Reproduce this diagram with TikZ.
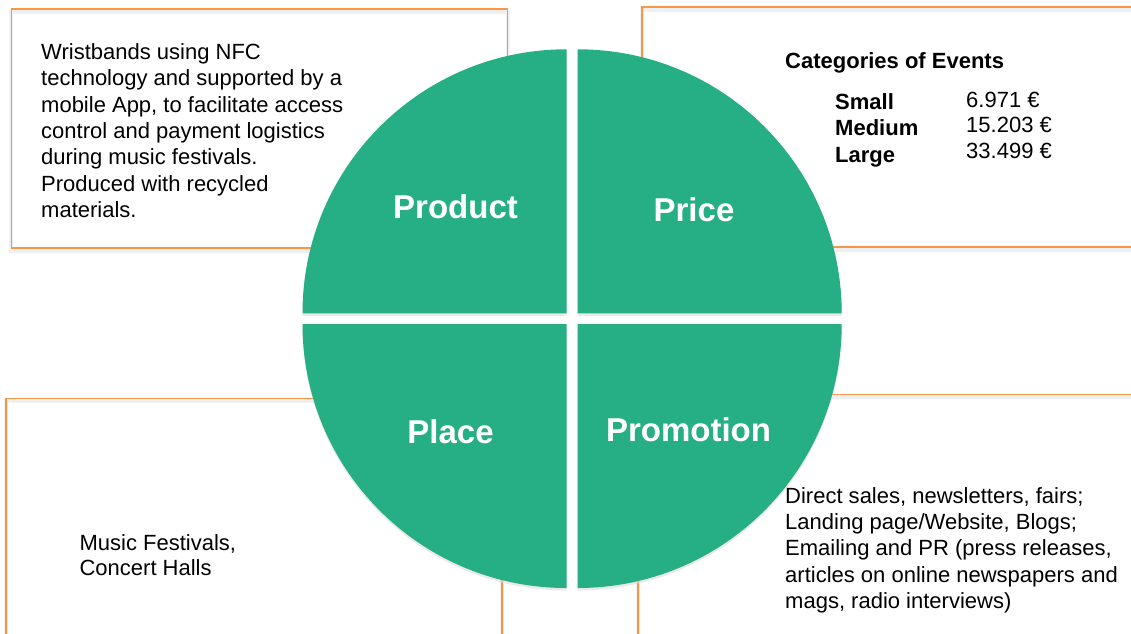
\documentclass[tikz,border=0pt]{standalone}
\usepackage{fontspec}
\setmainfont{Liberation Sans}
\usepackage{tikz}
\usetikzlibrary{positioning}

\definecolor{piegreen}{RGB}{38,174,132}
\definecolor{boxorange}{RGB}{247,150,70}

\begin{document}
\begin{tikzpicture}
	[x=1pt, y=1pt,
	 quarter/.style = {fill=piegreen},
	 quartershadow/.style = {fill=black!14, opacity=0.6},
	 card/.style = {draw=boxorange, line width=1.6pt},
	 cardshadow/.style = {draw=black!6, line width=4pt},
	 title/.style = {text=white, font=\bfseries\fontsize{33}{33}\selectfont, inner sep=0pt, anchor=base},
	 body/.style = {font=\fontsize{22}{26.3}\selectfont, align=left, inner sep=0pt, anchor=north west}]
	\useasboundingbox (0,0) rectangle (1131,633);
	\clip (0,0) rectangle (1131,633);

	% boxes behind the circle
	\draw[cardshadow] (11.4,382) rectangle (507.5,621);
	\draw[cardshadow] (642,383) rectangle (1145,623);
	\draw[cardshadow] (5.7,-10) rectangle (502,231.7);
	\draw[cardshadow] (638,-10) rectangle (1145,235.7);
	\draw[card] (11.4,385) rectangle (507.5,624);
	\draw[card] (642,386.3) rectangle (1145,626);
	\draw[card] (5.7,-7) rectangle (502,234.7);
	\draw[card] (638,-7) rectangle (1145,238.7);

	% four quarters of the circle
	\foreach \cx/\cy/\a in {566.5/319.7/90, 577.7/319.7/0, 566.5/309/180, 577.7/309/270}{
		\fill[quartershadow] (\cx,\cy-2.5) -- ++(\a:264) arc[start angle=\a, end angle=\a+90, radius=264] -- cycle;
	}
	\foreach \cx/\cy/\a in {566.5/319.7/90, 577.7/319.7/0, 566.5/309/180, 577.7/309/270}{
		\fill[quarter] (\cx,\cy) -- ++(\a:264) arc[start angle=\a, end angle=\a+90, radius=264] -- cycle;
	}

	\node[title] (product) at (455.5,415) {Product};
	\node[title] (price) at (694,412) {Price};
	\node[title] (place) at (450.5,190) {Place};
	\node[title] (promotion) at (688.5,192) {Promotion};

	% texts in the boxes
	\node[body] (producttext) at (41,589.5) {Wristbands using NFC\\technology and supported by a\\mobile App, to facilitate access\\control and payment logistics\\during music festivals.\\Produced with recycled\\materials.};
	\node[body, font=\bfseries\fontsize{22}{26}\selectfont, anchor=base west] (categories) at (785,564) {Categories of Events};
	\node[body, font=\bfseries\fontsize{22}{26.2}\selectfont] (sizes) at (835,539.5) {Small\\Medium\\Large};
	\node[body, font=\fontsize{22}{25.85}\selectfont] (prices) at (966,541.5) {6.971 €\\15.203 €\\33.499 €};
	\node[body, font=\fontsize{22}{25}\selectfont] (placetext) at (79.4,99.1) {Music Festivals,\\Concert Halls};
	\node[body, font=\fontsize{22}{26.25}\selectfont] (promotiontext) at (785,145.8) {Direct sales, newsletters, fairs;\\Landing page/Website, Blogs;\\Emailing and PR (press releases,\\articles on online newspapers and\\mags, radio interviews)};
\end{tikzpicture}
\end{document}
